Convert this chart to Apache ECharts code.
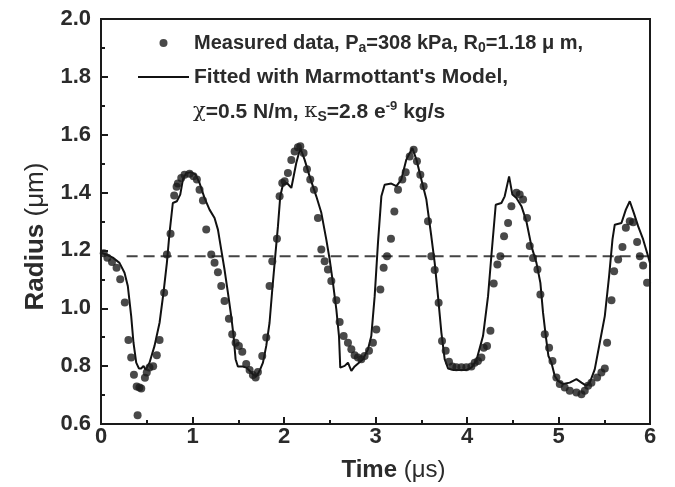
<!DOCTYPE html>
<html><head><meta charset="utf-8">
<script src="https://cdn.jsdelivr.net/npm/echarts@6/dist/echarts.min.js"></script>
<style>html,body{margin:0;padding:0;background:#fff}#c{width:675px;height:487px}</style>
</head><body><div id="c"></div>
<script>
// Measured data
const measT = [0.03,0.07,0.12,0.17,0.21,0.26,0.30,0.33,0.36,0.39,0.40,0.42,0.44,0.48,0.50,0.53,0.57,0.61,0.64,0.69,0.72,0.76,0.80,0.826,0.84,0.877,0.913,0.968,1.011,1.048,1.077,1.114,1.15,1.205,1.241,1.278,1.314,1.35,1.398,1.434,1.471,1.507,1.544,1.587,1.624,1.66,1.69,1.715,1.762,1.806,1.842,1.872,1.923,1.952,1.981,2.007,2.043,2.08,2.116,2.152,2.178,2.214,2.251,2.287,2.327,2.371,2.408,2.444,2.48,2.517,2.572,2.608,2.652,2.699,2.736,2.772,2.808,2.845,2.881,2.929,2.972,3.009,3.053,3.089,3.126,3.169,3.206,3.246,3.293,3.33,3.374,3.417,3.453,3.49,3.526,3.574,3.61,3.647,3.69,3.727,3.767,3.803,3.84,3.884,3.939,3.993,4.048,4.084,4.12,4.157,4.183,4.219,4.256,4.292,4.332,4.365,4.405,4.449,4.485,4.54,4.576,4.613,4.656,4.686,4.722,4.77,4.802,4.85,4.897,4.934,4.977,5.014,5.068,5.123,5.196,5.251,5.287,5.323,5.36,5.422,5.469,5.506,5.531,5.579,5.608,5.652,5.699,5.736,5.779,5.816,5.859,5.889,5.925,5.968];
const measR = [1.19,1.175,1.16,1.14,1.10,1.02,0.89,0.83,0.77,0.73,0.63,0.726,0.723,0.76,0.778,0.795,0.80,0.838,0.89,1.054,1.186,1.258,1.39,1.42,1.431,1.45,1.462,1.465,1.456,1.445,1.41,1.373,1.272,1.186,1.157,1.125,1.077,1.025,0.964,0.91,0.881,0.87,0.85,0.807,0.787,0.769,0.761,0.78,0.835,0.899,1.077,1.163,1.24,1.387,1.433,1.439,1.468,1.513,1.542,1.557,1.56,1.537,1.481,1.445,1.41,1.312,1.203,1.163,1.134,1.094,1.028,0.953,0.904,0.881,0.858,0.838,0.83,0.824,0.835,0.853,0.881,0.927,1.065,1.14,1.18,1.24,1.335,1.41,1.445,1.47,1.525,1.548,1.508,1.462,1.422,1.301,1.18,1.132,1.019,0.887,0.853,0.815,0.799,0.796,0.796,0.796,0.799,0.812,0.818,0.83,0.864,0.87,0.922,1.086,1.151,1.18,1.249,1.295,1.353,1.399,1.393,1.376,1.312,1.215,1.174,1.134,1.048,0.91,0.864,0.818,0.761,0.738,0.726,0.715,0.709,0.703,0.715,0.732,0.743,0.761,0.778,0.792,0.881,1.028,1.128,1.169,1.212,1.278,1.301,1.297,1.229,1.18,1.148,1.088];
// Fitted model curve
const fitT = [0,0.057,0.129,0.202,0.257,0.293,0.33,0.355,0.385,0.414,0.439,0.465,0.487,0.53,0.585,0.64,0.683,0.72,0.749,0.785,0.829,0.866,0.895,0.931,0.986,1.033,1.077,1.132,1.186,1.241,1.278,1.314,1.35,1.387,1.423,1.449,1.471,1.496,1.551,1.587,1.624,1.66,1.697,1.733,1.77,1.806,1.842,1.872,1.901,1.934,1.959,1.988,2.032,2.08,2.134,2.178,2.225,2.28,2.353,2.408,2.462,2.499,2.535,2.572,2.601,2.615,2.663,2.699,2.736,2.772,2.819,2.863,2.918,2.954,2.991,3.027,3.064,3.1,3.173,3.228,3.282,3.337,3.403,3.447,3.501,3.556,3.61,3.647,3.683,3.72,3.756,3.793,3.847,3.993,4.048,4.103,4.175,4.23,4.266,4.314,4.376,4.412,4.46,4.496,4.54,4.595,4.649,4.704,4.759,4.802,4.831,4.861,4.89,4.923,4.959,4.995,5.05,5.123,5.196,5.251,5.305,5.342,5.396,5.451,5.506,5.553,5.59,5.615,5.688,5.736,5.779,5.823,5.87,5.925,5.968,6.0];
const fitR = [1.192,1.186,1.175,1.157,1.123,1.077,0.973,0.881,0.812,0.792,0.792,0.801,0.787,0.812,0.87,0.95,1.054,1.157,1.261,1.364,1.37,1.393,1.445,1.468,1.47,1.462,1.433,1.381,1.341,1.312,1.272,1.203,1.134,1.054,0.973,0.904,0.824,0.799,0.799,0.795,0.784,0.772,0.764,0.784,0.812,0.87,0.95,1.065,1.169,1.284,1.387,1.427,1.433,1.416,1.502,1.554,1.514,1.456,1.387,1.33,1.238,1.169,1.088,0.996,0.904,0.795,0.801,0.812,0.784,0.799,0.812,0.824,0.858,0.904,1.042,1.226,1.387,1.427,1.431,1.422,1.445,1.514,1.554,1.514,1.445,1.376,1.249,1.157,1.042,0.916,0.824,0.792,0.787,0.787,0.795,0.82,0.904,1.042,1.18,1.358,1.364,1.387,1.456,1.393,1.381,1.353,1.301,1.215,1.157,1.088,0.985,0.904,0.835,0.812,0.766,0.749,0.738,0.743,0.755,0.743,0.732,0.743,0.789,0.881,0.973,1.111,1.238,1.289,1.295,1.341,1.37,1.33,1.284,1.238,1.192,1.157];
// Reference level R0
const refT = [0.28, 6];
const refR = [1.18, 1.18];
// Axis ticks
const xTicks = [0,1,2,3,4,5,6];
const yTicks = [0.6,0.8,1.0,1.2,1.4,1.6,1.8,2.0];

const zip = (a,b)=>a.map((v,i)=>[v,b[i]]);
const FONT = '"Liberation Sans", Arial, Helvetica, sans-serif';
const TXT = '#2b2b2b';
const AX = '#1a1a1a';
const chart = echarts.init(document.getElementById('c'), null, {renderer:'canvas'});
const subStyle = {fontSize:14, fontWeight:'bold', fontFamily:FONT, color:TXT, lineHeight:6, verticalAlign:'bottom'};
const supStyle = {fontSize:13, fontWeight:'bold', fontFamily:FONT, color:TXT, lineHeight:4, verticalAlign:'top'};
const greek = {fontSize:21, fontWeight:'normal', fontFamily:'"DejaVu Serif", serif', color:TXT};
const wide = {fontSize:21, fontWeight:'bold', fontFamily:FONT, color:TXT, lineHeight:24};
const tickFont = {fontSize:22, fontWeight:'bold', fontFamily:FONT, color:TXT};
chart.setOption({
  animation:false,
  backgroundColor:'#fff',
  grid:{left:101, right:25, top:19, bottom:62, show:true, borderColor:AX, borderWidth:2},
  xAxis:{type:'value', min:xTicks[0], max:xTicks[xTicks.length-1], interval:1,
    name:'Time {n|(μs)}', nameLocation:'middle', nameGap:34,
    nameTextStyle:{fontSize:24, fontWeight:'bold', fontFamily:FONT, color:TXT, padding:[0,0,0,36],
      rich:{n:{fontSize:24, fontWeight:'normal', fontFamily:FONT, color:TXT}}},
    axisLine:{lineStyle:{color:AX, width:2}},
    axisTick:{inside:true, length:7, lineStyle:{color:AX, width:2}},
    minorTick:{show:true, splitNumber:2, length:4, lineStyle:{color:AX, width:2}},
    splitLine:{show:false},
    axisLabel:Object.assign({margin:2}, tickFont)},
  yAxis:{type:'value', min:yTicks[0], max:yTicks[yTicks.length-1], interval:0.2,
    name:'Radius {n|(μm)}', nameLocation:'middle', nameGap:52, nameRotate:90,
    nameTextStyle:{fontSize:26, fontWeight:'bold', fontFamily:FONT, color:TXT, padding:[0,30,0,0],
      rich:{n:{fontSize:26, fontWeight:'normal', fontFamily:FONT, color:TXT}}},
    axisLine:{lineStyle:{color:AX, width:2}},
    axisTick:{inside:true, length:7, lineStyle:{color:AX, width:2}},
    minorTick:{show:true, splitNumber:2, length:4, lineStyle:{color:AX, width:2}},
    splitLine:{show:false},
    axisLabel:Object.assign({margin:10, formatter:v=>v.toFixed(1)}, tickFont)},
  legend:{
    orient:'vertical', left:137, top:31, padding:0, itemWidth:51, itemHeight:8, itemGap:10,
    data:['meas', {name:'fit', itemStyle:{opacity:0}}],
    formatter:n=> n==='meas' ? 'Measured data, P{sub|a}=308 kPa, R{sub|0}=1.18 μ m,' : "{w|Fitted with Marmottant's Model,}",
    textStyle:{fontSize:20, fontWeight:'bold', fontFamily:FONT, color:TXT, lineHeight:24, rich:{sub:subStyle, w:wide}}
  },
  graphic:[{type:'text', left:193, top:100, style:{
    text:'{g|χ}=0.5 N/m, {g|κ}{sub|S}=2.8 e{sup|-9} kg/s',
    font:'bold 21px '+FONT, fill:TXT, lineHeight:24,
    rich:{g:greek, sub:subStyle, sup:supStyle}}}],
  series:[
    {name:'ref', type:'line', data:zip(refT,refR), symbol:'none', silent:true,
     lineStyle:{color:'#444', width:2, type:[11,6]}, z:1},
    {name:'fit', type:'line', data:zip(fitT,fitR), symbol:'none',
     lineStyle:{color:'#111', width:2}, itemStyle:{color:'#111'}, z:2},
    {name:'meas', type:'scatter', data:zip(measT,measR), symbol:'circle', symbolSize:8,
     itemStyle:{color:'#1c1c1c'}, z:3}
  ]
});
</script></body></html>
